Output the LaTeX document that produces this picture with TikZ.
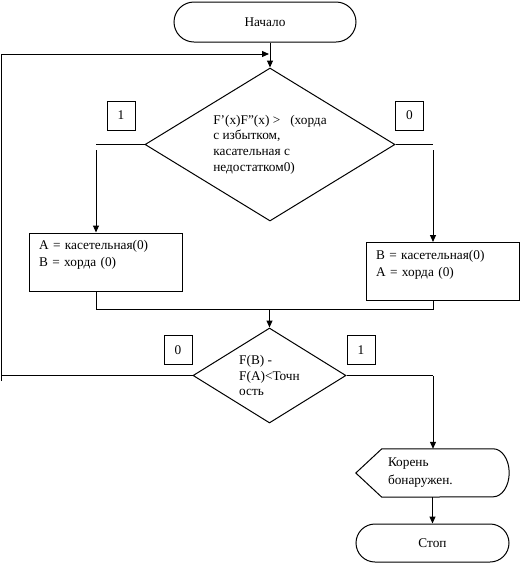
\documentclass[tikz,border=0pt]{standalone}
\usepackage{fontspec}
\setmainfont{Liberation Serif}
\usetikzlibrary{shapes.geometric,arrows.meta}
\tikzset{
  line/.style={line width=1pt},
  arr/.style={line width=1pt,-{Triangle[length=7pt,width=6pt]}},
  term/.style={draw,line width=1pt,rectangle,rounded corners=20pt,minimum width=182pt,minimum height=40pt,inner sep=0pt},
  cond/.style={draw,line width=1pt,diamond,inner sep=0pt,align=left,font=\fontsize{13.3}{15.7}\selectfont},
  block/.style={draw,line width=1pt,rectangle,align=left,inner sep=0pt,minimum width=153pt,text width=133pt,minimum height=58pt},
  tag/.style={draw,line width=1pt,minimum width=28pt,minimum height=29pt,inner sep=0pt}
}
\begin{document}
\begin{tikzpicture}[x=1pt,y=-1pt,font=\fontsize{13.3}{17}\selectfont]
  \useasboundingbox (0,0) rectangle (522,566);
  % Start and first test
  \node[term] (start) at (265,22) {Начало};
  \node[cond,aspect=1.63,minimum width=250pt,minimum height=153pt] (d1) at (270,144.5)
    {F’(x)F”(x) > \ \ (хорда\\с избытком,\\касательная с\\недостатком0)};
  \node[tag] (t1) at (121,115.5) {1};
  \node[tag] (t0) at (409.5,115.5) {0};
  % Two branches
  \node[block] (bl) at (105.5,262) {A = касетельная(0)\\B = хорда (0)\\\mbox{}};
  \node[block] (br) at (442.5,271.5) {B = касетельная(0)\\A = хорда (0)\\\mbox{}};
  % Second test
  \node[cond,aspect=1.61,minimum width=153pt,minimum height=95pt] (d2) at (269.5,375.5)
    {F(B) -\\F(A)<Точн\\ость};
  \node[tag] (t0b) at (178,350) {0};
  \node[tag] (t1b) at (361,350) {1};
  % Output and stop
  \node[minimum width=153pt,minimum height=48pt,inner xsep=32pt,inner ysep=0pt,
    text width=89pt,align=left,font=\fontsize{13.3}{18}\selectfont] (out) at (432.5,473)
    {Корень\\бонаружен.};
  \draw[line] (out.west) -- ([xshift=26pt]out.north west) -- ([xshift=-16pt]out.north east)
    arc[start angle=90,end angle=-90,x radius=16pt,y radius=24pt]
    -- ([xshift=26pt]out.south west) -- cycle;
  \node[term,minimum width=153pt,minimum height=38pt,rounded corners=19pt] (stop) at (432.5,543) {Стоп};
  % Corner points of the connectors
  \coordinate (loopbot) at (1,381);
  \coordinate (looptop) at (1,54);
  \coordinate (loopin) at (269,54);
  \coordinate (lcorner) at (96,144.5);
  \coordinate (ldrop) at (96,150);
  \coordinate (rcorner) at (433,144.5);
  \coordinate (rdrop) at (433,150);
  \coordinate (lmerge) at (96,309);
  \coordinate (rmerge) at (433,309);
  \coordinate (yesdrop) at (433,376);
  % Connectors
  \draw[arr] (start.south -| d1.north) -- (d1.north);
  \draw[line] (d1.west) -- (lcorner);
  \draw[arr] (ldrop) -- (ldrop |- bl.north);
  \draw[line] (d1.east) -- (rcorner);
  \draw[arr] (rdrop) -- (rdrop |- br.north);
  \draw[line] (lmerge |- bl.south) -- (lmerge) -- (rmerge) -- (rmerge |- br.south);
  \draw[arr] (lmerge -| d2.north) -- (d2.north);
  \draw[line] (d2.west) -- (d2.west -| looptop);
  \draw[arr] (loopbot) -- (looptop) -- (loopin);
  \draw[line] (d2.east) -- (d2.east -| yesdrop);
  \draw[arr] (yesdrop) -- (yesdrop |- out.north);
  \draw[arr] (out.south) -- (stop.north);
\end{tikzpicture}
\end{document}
